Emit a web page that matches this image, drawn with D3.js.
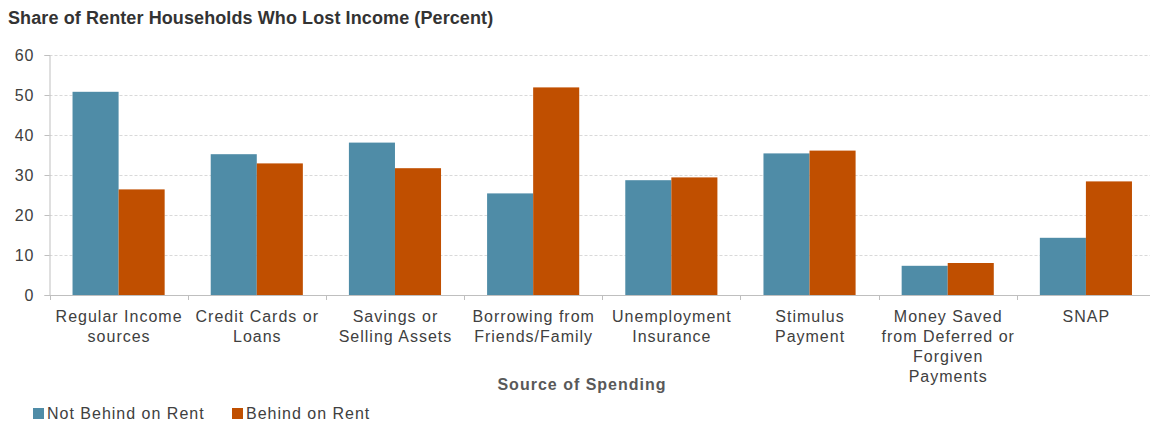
<!DOCTYPE html>
<html>
<head>
<meta charset="utf-8">
<script src="https://cdn.jsdelivr.net/npm/d3@7"></script>
<style>
  html, body { margin: 0; padding: 0; background: #fff; }
  svg { display: block; font-family: "Liberation Sans", Arial, sans-serif; }
</style>
</head>
<body>
<svg id="chart" width="1150" height="424"></svg>
<script>
// Spending sources reported by renter households who lost income
const categories = [
  ["Regular Income", "sources"],
  ["Credit Cards or", "Loans"],
  ["Savings or", "Selling Assets"],
  ["Borrowing from", "Friends/Family"],
  ["Unemployment", "Insurance"],
  ["Stimulus", "Payment"],
  ["Money Saved", "from Deferred or", "Forgiven", "Payments"],
  ["SNAP"]
];
const seriesNames = ["Not Behind on Rent", "Behind on Rent"];
const notBehind = [50.8, 35.2, 38.1, 25.4, 28.7, 35.4, 7.3, 14.3];
const behind    = [26.4, 32.9, 31.7, 51.9, 29.4, 36.1, 8.0, 28.4];
const yTicks = [0, 10, 20, 30, 40, 50, 60];
const colors = ["#4f8ca7", "#c04f00"];

const svg = d3.select("#chart");
const margin = { left: 49.5, right: -5, top: 55, bottom: 129 };
const W = 1150, H = 424;
const plotL = margin.left, plotR = W - margin.right;
const plotT = margin.top, plotB = H - margin.bottom;
const labelFont = 16, labelSpacing = 1;

const idx = categories.map((_, i) => i);
const x0 = d3.scaleBand().domain(idx).range([plotL, plotR]).paddingInner(1/3).paddingOuter(1/6);
const x1 = d3.scaleBand().domain([0, 1]).range([0, x0.bandwidth()]);
const y = d3.scaleLinear().domain([0, 60]).range([plotB, plotT]);

// Title
svg.append("text")
  .attr("x", 8).attr("y", 24)
  .attr("font-size", 18).attr("font-weight", "bold").attr("fill", "#333")
  .attr("letter-spacing", 0.1)
  .text("Share of Renter Households Who Lost Income (Percent)");

// Dashed gridlines
svg.append("g")
  .selectAll("line").data(yTicks.filter(t => t > 0)).join("line")
  .attr("x1", plotL).attr("x2", plotR)
  .attr("y1", d => Math.round(y(d)) + 0.5).attr("y2", d => Math.round(y(d)) + 0.5)
  .attr("stroke", "#d9d9d9").attr("stroke-width", 1).attr("stroke-dasharray", "3,2");

// Y axis
const yAxis = svg.append("g")
  .attr("transform", `translate(${plotL},0)`)
  .call(d3.axisLeft(y).tickValues(yTicks).tickSize(5).tickPadding(10).tickFormat(d3.format("d")));
yAxis.select(".domain").attr("stroke", "#bfbfbf");
yAxis.selectAll(".tick line").attr("stroke", "#bfbfbf");
yAxis.selectAll(".tick text").attr("font-size", labelFont).attr("fill", "#404040")
  .attr("letter-spacing", labelSpacing)
  .attr("font-family", "Liberation Sans, Arial, sans-serif");

// Bars
const values = [notBehind, behind];
const groups = svg.append("g").selectAll("g").data(idx).join("g")
  .attr("transform", i => `translate(${x0(i)},0)`);
groups.selectAll("rect")
  .data(i => values.map((v, s) => ({ s, v: v[i] })))
  .join("rect")
  .attr("x", d => x1(d.s))
  .attr("width", x1.bandwidth())
  .attr("y", d => y(d.v))
  .attr("height", d => y(0) - y(d.v))
  .attr("fill", d => colors[d.s]);

// X axis baseline and category ticks
const step = x0.step();
const boundaries = d3.range(categories.length + 1).map(k => x0(0) - x0.paddingOuter() * step + k * step);
svg.append("line")
  .attr("x1", plotL).attr("x2", plotR)
  .attr("y1", plotB + 0.5).attr("y2", plotB + 0.5)
  .attr("stroke", "#bfbfbf");
svg.append("g").selectAll("line").data(boundaries).join("line")
  .attr("x1", d => Math.round(d) + 0.5).attr("x2", d => Math.round(d) + 0.5)
  .attr("y1", plotB).attr("y2", plotB + 5)
  .attr("stroke", "#bfbfbf");

// Category labels
const labels = svg.append("g").selectAll("text").data(idx).join("text")
  .attr("x", i => x0(i) + x0.bandwidth() / 2 + labelSpacing / 2)
  .attr("y", plotB + 27)
  .attr("text-anchor", "middle")
  .attr("font-size", labelFont).attr("letter-spacing", labelSpacing).attr("fill", "#404040");
labels.selectAll("tspan").data(i => categories[i]).join("tspan")
  .attr("x", function () { return d3.select(this.parentNode).attr("x"); })
  .attr("dy", (d, k) => k === 0 ? 0 : 20)
  .text(d => d);

// Axis title
svg.append("text")
  .attr("x", 582).attr("y", 390)
  .attr("text-anchor", "middle")
  .attr("font-size", labelFont).attr("letter-spacing", labelSpacing)
  .attr("font-weight", "bold").attr("fill", "#595959")
  .text("Source of Spending");

// Legend
const legendX = [33, 232];
const legend = svg.append("g").selectAll("g").data(seriesNames).join("g")
  .attr("transform", (d, s) => `translate(${legendX[s]},408)`);
legend.append("rect").attr("width", 11).attr("height", 11).attr("fill", (d, s) => colors[s]);
legend.append("text").attr("x", 14).attr("y", 11)
  .attr("font-size", labelFont).attr("letter-spacing", labelSpacing).attr("fill", "#404040")
  .text(d => d);
</script>
</body>
</html>
